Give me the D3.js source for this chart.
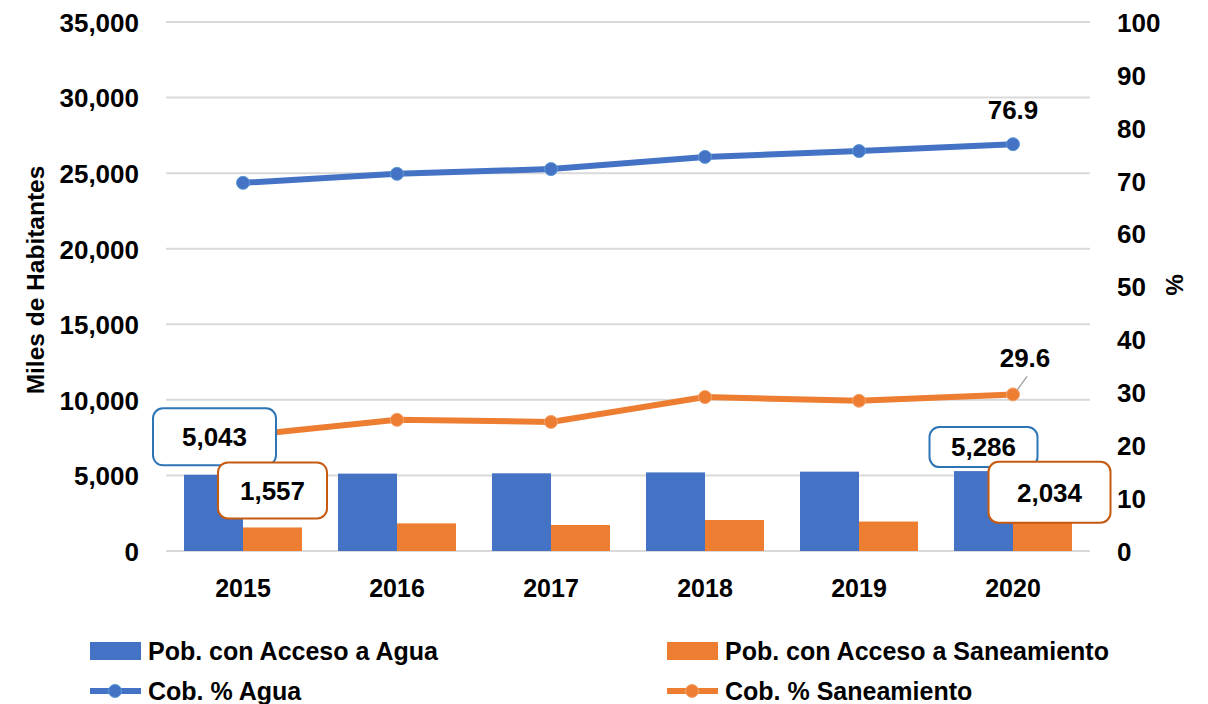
<!DOCTYPE html>
<html>
<head>
<meta charset="utf-8">
<script src="https://cdn.jsdelivr.net/npm/d3@7"></script>
<style>
  body { margin: 0; background: #fff; }
  svg { display: block; }
  .tick text { font-family: "Liberation Sans", Arial, sans-serif; font-weight: bold; font-size: 26px; fill: #000; }
</style>
</head>
<body>
<svg id="chart" width="1208" height="704"></svg>
<script>
// data
var years = ["2015", "2016", "2017", "2018", "2019", "2020"];
var pobAgua = [5043, 5120, 5140, 5200, 5250, 5286];
var pobSaneamiento = [1557, 1830, 1720, 2050, 1950, 2034];
var cobAgua = [69.6, 71.3, 72.2, 74.5, 75.6, 76.9];
var cobSaneamiento = [21.8, 24.8, 24.4, 29.1, 28.4, 29.6];
var leftTicks = [0, 5000, 10000, 15000, 20000, 25000, 30000, 35000];
var rightTicks = [0, 10, 20, 30, 40, 50, 60, 70, 80, 90, 100];

var blue = "#4472C4", orange = "#ED7D31";

var svg = d3.select("#chart");
var fmt = d3.format(",");

var x0 = d3.scaleBand().domain(years).range([166, 1090]).padding(0);
var x1 = d3.scaleBand().domain(["agua", "san"]).range([0, x0.bandwidth()]).paddingInner(0).paddingOuter(0.305);
var yL = d3.scaleLinear().domain([0, 35000]).range([551, 22]);
var yR = d3.scaleLinear().domain([0, 100]).range([551, 22]);

// gridlines
svg.append("g").selectAll("line").data(leftTicks).enter().append("line")
    .attr("x1", 166).attr("x2", 1090)
    .attr("y1", function (d) { return yL(d); })
    .attr("y2", function (d) { return yL(d); })
    .attr("stroke", "#d9d9d9").attr("stroke-width", 2);

// axes
var gl = svg.append("g").attr("transform", "translate(139,0)")
    .call(d3.axisLeft(yL).tickValues(leftTicks).tickFormat(fmt).tickSize(0).tickPadding(0));
gl.select(".domain").remove();
gl.selectAll(".tick text").attr("dy", "0.36em");

var gr = svg.append("g").attr("transform", "translate(1117,0)")
    .call(d3.axisRight(yR).tickValues(rightTicks).tickSize(0).tickPadding(0));
gr.select(".domain").remove();
gr.selectAll(".tick text").attr("dy", "0.36em");

var gx = svg.append("g").attr("transform", "translate(0,588)")
    .call(d3.axisBottom(x0).tickSize(0).tickPadding(0));
gx.select(".domain").remove();
gx.selectAll(".tick text").attr("dy", "0.36em").style("font-size", "25px");

// axis titles
svg.append("text")
    .attr("transform", "translate(44,280) rotate(-90)")
    .attr("text-anchor", "middle")
    .style("font-family", "Liberation Sans, Arial, sans-serif")
    .style("font-weight", "bold")
    .style("font-size", "24.5px")
    .text("Miles de Habitantes");

svg.append("text")
    .attr("transform", "translate(1166,285) rotate(90)")
    .attr("text-anchor", "middle")
    .style("font-family", "Liberation Sans, Arial, sans-serif")
    .style("font-weight", "bold")
    .style("font-size", "24px")
    .text("%");

// bars
var bars = svg.append("g");
bars.selectAll("rect.agua").data(pobAgua).enter().append("rect")
    .attr("x", function (d, i) { return x0(years[i]) + x1("agua"); })
    .attr("y", function (d) { return yL(d); })
    .attr("width", x1.bandwidth())
    .attr("height", function (d) { return yL(0) - yL(d); })
    .attr("fill", blue);
bars.selectAll("rect.san").data(pobSaneamiento).enter().append("rect")
    .attr("x", function (d, i) { return x0(years[i]) + x1("san"); })
    .attr("y", function (d) { return yL(d); })
    .attr("width", x1.bandwidth())
    .attr("height", function (d) { return yL(0) - yL(d); })
    .attr("fill", orange);

// lines
function cx(i) { return x0(years[i]) + x0.bandwidth() / 2; }
var line = d3.line().x(function (d, i) { return cx(i); }).y(function (d) { return yR(d); });

function drawLine(vals, color, stroke) {
    svg.append("path").datum(vals)
        .attr("d", line)
        .attr("fill", "none")
        .attr("stroke", color)
        .attr("stroke-width", 6);
    svg.append("g").selectAll("circle").data(vals).enter().append("circle")
        .attr("cx", function (d, i) { return cx(i); })
        .attr("cy", function (d) { return yR(d); })
        .attr("r", 6.5)
        .attr("fill", color)
        .attr("stroke", stroke)
        .attr("stroke-width", 1);
}
drawLine(cobAgua, blue, "#5B9BD5");
drawLine(cobSaneamiento, orange, "#F4A36C");

// data labels
var labelFont = function (sel) {
    sel.style("font-family", "Liberation Sans, Arial, sans-serif")
       .style("font-weight", "bold")
       .style("font-size", "26px")
       .attr("text-anchor", "middle");
};

function boxLabel(xc, yc, w, h, color, txt) {
    svg.append("rect")
        .attr("x", xc - w / 2).attr("y", yc - h / 2)
        .attr("width", w).attr("height", h)
        .attr("rx", 10).attr("ry", 10)
        .attr("fill", "#fff").attr("stroke", color).attr("stroke-width", 2);
    svg.append("text").attr("x", xc).attr("y", yc).attr("dy", "0.36em").call(labelFont).text(txt);
}

var first = 0, last = years.length - 1;
boxLabel(x0(years[first]) + x1("agua") + x1.bandwidth() / 2 + 1, yL(pobAgua[first]) - 38, 123, 57, "#2E75B6", fmt(pobAgua[first]));
boxLabel(x0(years[first]) + x1("san") + x1.bandwidth() / 2, yL(pobSaneamiento[first]) - 37, 109, 56, "#C55A11", fmt(pobSaneamiento[first]));
boxLabel(x0(years[last]) + x1("agua") + x1.bandwidth() / 2, yL(pobAgua[last]) - 24, 108, 40, "#2E75B6", fmt(pobAgua[last]));
boxLabel(x0(years[last]) + x1("san") + x1.bandwidth() / 2 + 7, yL(pobSaneamiento[last]) - 28, 122, 61, "#C55A11", fmt(pobSaneamiento[last]));

svg.append("text").attr("x", cx(last)).attr("y", yR(cobAgua[last]) - 35).attr("dy", "0.36em")
    .call(labelFont).text(cobAgua[last].toFixed(1));

svg.append("line")
    .attr("x1", cx(last) + 4).attr("y1", yR(cobSaneamiento[last]) - 4)
    .attr("x2", cx(last) + 14).attr("y2", yR(cobSaneamiento[last]) - 18)
    .attr("stroke", "#a6a6a6").attr("stroke-width", 1.5);
svg.append("text").attr("x", cx(last) + 12).attr("y", yR(cobSaneamiento[last]) - 37).attr("dy", "0.36em")
    .call(labelFont).text(cobSaneamiento[last].toFixed(1));

// legend
var legendItems = [
    {name: "Pob. con Acceso a Agua", color: blue, type: "bar", x: 90, y: 651},
    {name: "Pob. con Acceso a Saneamiento", color: orange, type: "bar", x: 667, y: 651},
    {name: "Cob. % Agua", color: blue, stroke: "#5B9BD5", type: "line", x: 90, y: 691},
    {name: "Cob. % Saneamiento", color: orange, stroke: "#F4A36C", type: "line", x: 667, y: 691}
];
var lg = svg.append("g").selectAll("g").data(legendItems).enter().append("g")
    .attr("transform", function (d) { return "translate(" + d.x + "," + d.y + ")"; });
lg.filter(function (d) { return d.type === "bar"; }).append("rect")
    .attr("x", 0).attr("y", -9).attr("width", 51).attr("height", 18)
    .attr("fill", function (d) { return d.color; });
lg.filter(function (d) { return d.type === "line"; }).append("line")
    .attr("x1", 0).attr("x2", 51).attr("y1", 0).attr("y2", 0)
    .attr("stroke", function (d) { return d.color; }).attr("stroke-width", 6);
lg.filter(function (d) { return d.type === "line"; }).append("circle")
    .attr("cx", 25).attr("cy", 0).attr("r", 6.5)
    .attr("fill", function (d) { return d.color; })
    .attr("stroke", function (d) { return d.stroke; });
lg.append("text")
    .attr("x", 58).attr("y", 0).attr("dy", "0.36em")
    .style("font-family", "Liberation Sans, Arial, sans-serif")
    .style("font-weight", "bold")
    .style("font-size", "25px")
    .text(function (d) { return d.name; });
</script>
</body>
</html>
